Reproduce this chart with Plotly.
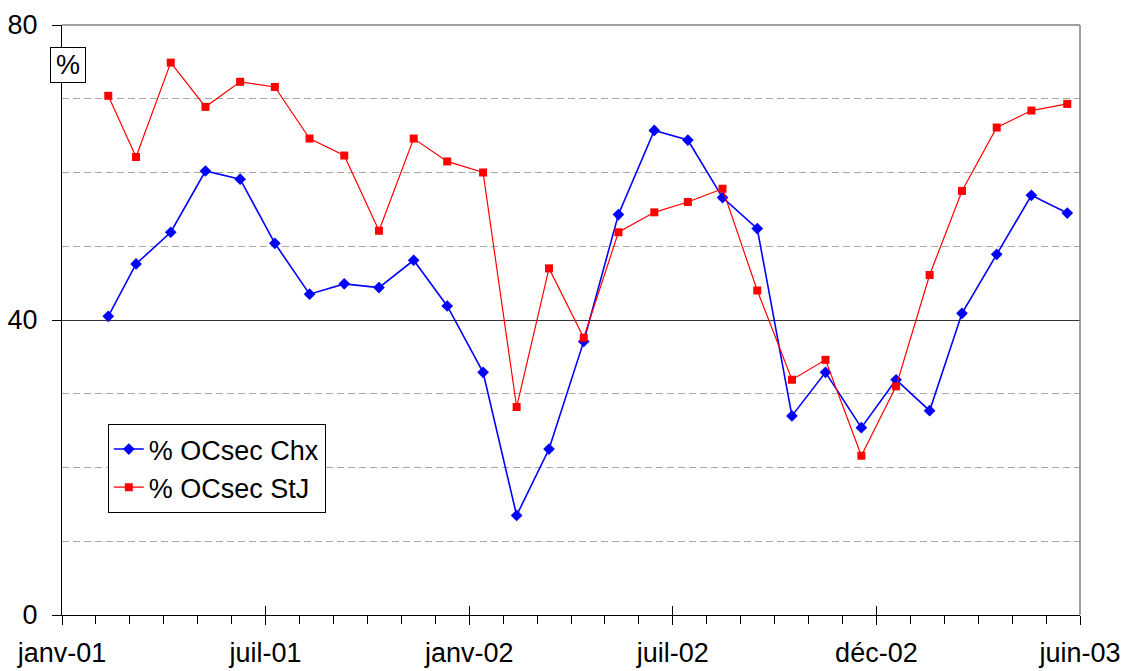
import plotly.graph_objects as go

# Sampling dates (monthly sampling campaigns)
dates = [
    "2001-03-03", "2001-03-27", "2001-04-26", "2001-05-26", "2001-06-25",
    "2001-07-25", "2001-08-24", "2001-09-23", "2001-10-23", "2001-11-22",
    "2001-12-21", "2002-01-21", "2002-02-19", "2002-03-19", "2002-04-18",
    "2002-05-18", "2002-06-18", "2002-07-17", "2002-08-16", "2002-09-15",
    "2002-10-15", "2002-11-13", "2002-12-14", "2003-01-13", "2003-02-11",
    "2003-03-11", "2003-04-10", "2003-05-10", "2003-06-10",
]

# % OCsec at Chx
ocsec_chx = [
    40.5, 47.6, 51.9, 60.2, 59.1, 50.4, 43.5, 44.9, 44.4, 48.1,
    41.9, 32.9, 13.5, 22.5, 37.1, 54.3, 65.7, 64.4, 56.6, 52.4,
    27.0, 32.9, 25.4, 31.9, 27.7, 40.9, 48.9, 56.9, 54.5,
]

# % OCsec at StJ
ocsec_stj = [
    70.4, 62.1, 74.9, 68.9, 72.3, 71.6, 64.6, 62.3, 52.1, 64.6,
    61.5, 60.0, 28.2, 47.0, 37.6, 51.9, 54.6, 56.0, 57.8, 44.0,
    31.9, 34.6, 21.6, 31.0, 46.1, 57.5, 66.1, 68.4, 69.3,
]

# Axis ticks: the date axis is split into five equal steps
x_tickvals = ["2001-01-22", "2001-07-17", "2002-01-09", "2002-07-04", "2002-12-27", "2003-06-21"]
x_ticktext = ["janv-01", "juil-01", "janv-02", "juil-02", "déc-02", "juin-03"]
y_tickvals = [0, 40, 80]

FONT = "Liberation Sans, Arial, sans-serif"
FS = 27
MS_PER_DAY = 86400000

fig = go.Figure()
fig.add_trace(go.Scatter(
    x=dates, y=ocsec_chx, name="% OCsec Chx", mode="lines+markers",
    line=dict(color="#0000FF", width=1.6),
    marker=dict(symbol="diamond", size=9, color="#0000FF"),
))
fig.add_trace(go.Scatter(
    x=dates, y=ocsec_stj, name="% OCsec StJ", mode="lines+markers",
    line=dict(color="#FF0000", width=1.2),
    marker=dict(symbol="square", size=8, color="#FF0000"),
))
# invisible helper trace carrying the overlay axis used for the upper half of major ticks
fig.add_trace(go.Scatter(
    x=[x_tickvals[0]], y=[0], xaxis="x2", mode="markers",
    marker=dict(opacity=0), showlegend=False, hoverinfo="skip",
))

fig.update_layout(
    width=1126, height=671,
    margin=dict(l=62, r=46, t=25, b=56, autoexpand=False),
    paper_bgcolor="white", plot_bgcolor="white",
    font=dict(family=FONT, size=FS, color="black"),
    showlegend=True,
    legend=dict(
        x=0.045, y=(615 - 424) / 590, xanchor="left", yanchor="top",
        bgcolor="white", bordercolor="black", borderwidth=1,
        font=dict(family=FONT, size=FS, color="black"),
        tracegroupgap=0, itemwidth=30,
    ),
    xaxis=dict(
        type="date", automargin=False,
        range=[x_tickvals[0], x_tickvals[-1]],
        tickmode="array", tickvals=x_tickvals, ticktext=x_ticktext,
        ticks="outside", ticklen=9, tickcolor="black", tickwidth=1,
        showline=True, linecolor="black", linewidth=1,
        showgrid=False, zeroline=False,
        ticklabelstandoff=5,
        minor=dict(
            tick0=x_tickvals[0], dtick=176 / 6 * MS_PER_DAY,
            ticks="outside", ticklen=8, tickcolor="black", tickwidth=1,
            showgrid=False,
        ),
    ),
    xaxis2=dict(
        type="date", overlaying="x", side="bottom", automargin=False,
        range=[x_tickvals[0], x_tickvals[-1]],
        tickmode="array", tickvals=x_tickvals,
        ticks="inside", ticklen=9, tickcolor="black", tickwidth=1,
        showticklabels=False, showline=False, showgrid=False, zeroline=False,
    ),
    yaxis=dict(
        range=[0, 80], automargin=False,
        tickmode="array", tickvals=y_tickvals,
        ticks="outside", ticklen=9, tickcolor="black", tickwidth=1,
        showline=True, linecolor="black", linewidth=1,
        showgrid=True, gridcolor="#333333", gridwidth=1,
        zeroline=False,
        ticklabelstandoff=9,
        minor=dict(
            dtick=10, showgrid=True, gridcolor="#a6a6a6", gridwidth=1,
            griddash="7px,4px", ticks="",
        ),
    ),
    shapes=[
        dict(type="line", xref="paper", yref="paper", x0=0, x1=1, y0=1, y1=1,
             line=dict(color="#808080", width=1.5), layer="above"),
        dict(type="line", xref="paper", yref="paper", x0=1, x1=1, y0=0, y1=1,
             line=dict(color="#808080", width=1.5), layer="above"),
    ],
    annotations=[
        dict(text="%", xref="paper", yref="paper",
             x=(68 - 62) / 1018, y=(615 - 64.5) / 590,
             xanchor="center", yanchor="middle", showarrow=False,
             font=dict(family=FONT, size=FS, color="black"),
             width=30, height=30, borderpad=2,
             bgcolor="white", bordercolor="black", borderwidth=1),
    ],
)

fig.write_html("out.html")
